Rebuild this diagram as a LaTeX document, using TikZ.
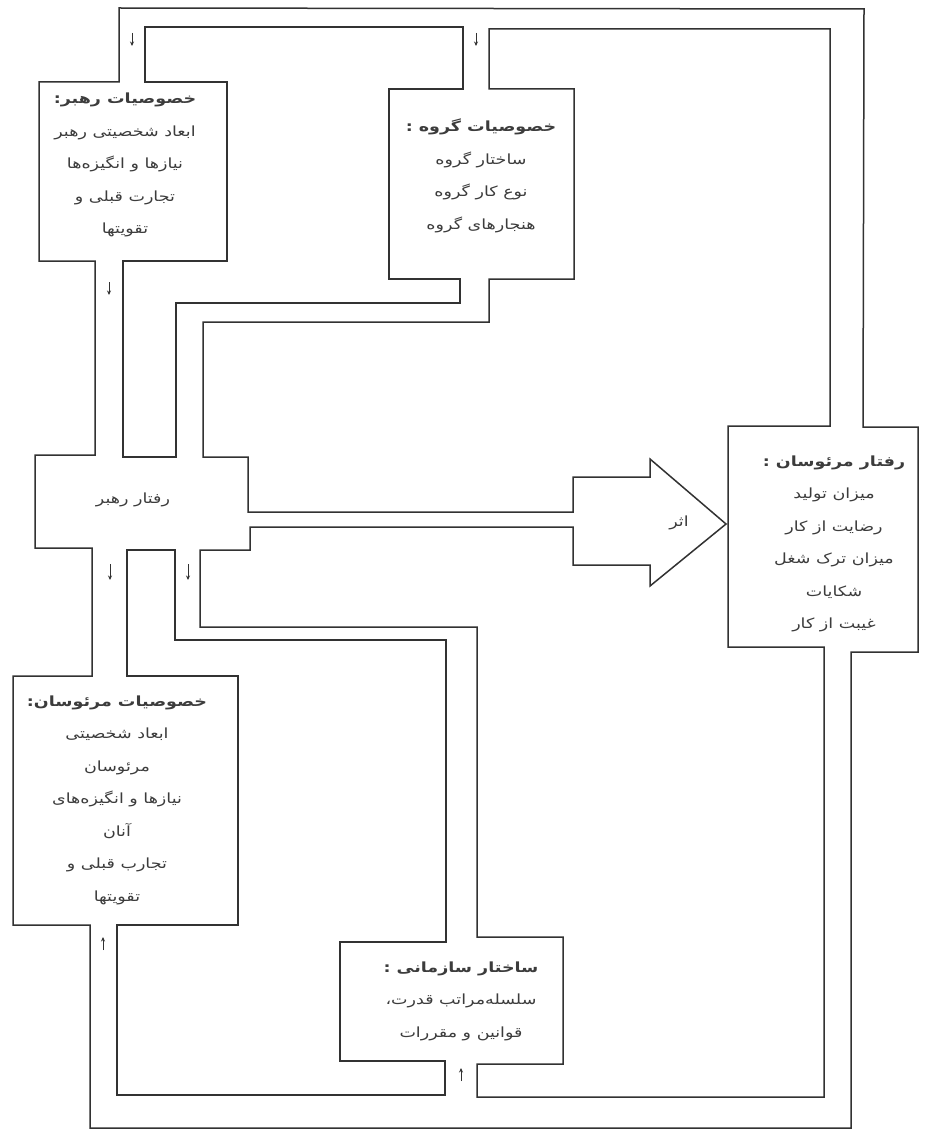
\documentclass[tikz,border=0pt]{standalone}
\usepackage{fontspec}
\newfontfamily\arabicfont[Script=Arabic,FakeStretch=1.25]{DejaVu Sans}
\TeXXeTstate=1
\usetikzlibrary{arrows.meta}
\newcommand{\fa}[1]{\beginR #1\endR}
\definecolor{ink}{RGB}{50,50,50}
\definecolor{textink}{RGB}{60,60,60}
\tikzset{
  outline/.style={draw=ink, line width=1.5pt, line join=miter},
  flowarrow/.style={draw=ink, line width=0.8pt, -{Stealth[length=4.5pt,width=4pt]}},
  label/.style={text=textink, align=center, inner sep=0pt, font=\arabicfont\fontsize{14}{32.5}\selectfont},
}
\begin{document}
\begin{tikzpicture}[x=1pt,y=-1pt]
\fill[white] (0,0) rectangle (929,1134);
\useasboundingbox (0,0) rectangle (929,1134);

% outer line
\draw[outline] (39,82) -- (119,82) -- (119,8) -- (864,9) -- (863,427) -- (918,427) -- (918,652) -- (851,652) -- (851,1128) -- (90,1128) -- (90,925) -- (13,925) -- (13,676) -- (92,676) -- (92,548) -- (35,548) -- (35,455) -- (95,455) -- (95,261) -- (39,261) -- cycle;
% leader / group loop
\draw[outline] (145,82) -- (145,27) -- (463,27) -- (463,89) -- (389,89) -- (389,279) -- (460,279) -- (460,303) -- (176,303) -- (176,457) -- (123,457) -- (123,261) -- (227,261) -- (227,82) -- cycle;
% group / arrow / behaviour / organisation loop
\draw[outline] (489,89) -- (489,29) -- (830,29) -- (830,426) -- (728,426) -- (728,647) -- (824,647) -- (824,1097) -- (477,1097) -- (477,1064) -- (563,1064) -- (563,937) -- (477,937) -- (477,627) -- (200,627) -- (200,550) -- (250,550) -- (250,527) -- (573,527) -- (573,565) -- (650,565) -- (650,586) -- (726,524) -- (650,459) -- (650,477) -- (573,477) -- (573,512) -- (248,512) -- (248,457) -- (203,457) -- (203,322) -- (489,322) -- (489,279) -- (574,279) -- (574,89) -- cycle;
% followers / organisation inner loop
\draw[outline] (117,925) -- (238,925) -- (238,676) -- (127,676) -- (127,550) -- (175,550) -- (175,640) -- (446,640) -- (446,942) -- (340,942) -- (340,1061) -- (445,1061) -- (445,1095) -- (117,1095) -- cycle;

% small flow arrows
\coordinate (a1s) at (132,33); \coordinate (a1e) at (132,46);
\coordinate (a2s) at (476,33); \coordinate (a2e) at (476,46);
\coordinate (a3s) at (109,282); \coordinate (a3e) at (109,295);
\coordinate (a4s) at (110,564); \coordinate (a4e) at (110,580);
\coordinate (a5s) at (188,564); \coordinate (a5e) at (188,580);
\coordinate (a6s) at (103,950); \coordinate (a6e) at (103,937);
\coordinate (a7s) at (461,1081); \coordinate (a7e) at (461,1068);
\foreach \i in {1,...,7} {\draw[flowarrow] (a\i s) -- (a\i e);}

% texts
\node[label] (leader) at (125,165) {{\bfseries\fa{خصوصیات رهبر:}}\\ \fa{ابعاد شخصیتی رهبر}\\ \fa{نیازها و انگیزه‌ها}\\ \fa{تجارت قبلی و}\\ \fa{تقویتها}};
\node[label] (group) at (481,176) {{\bfseries\fa{خصوصیات گروه :}}\\ \fa{ساختار گروه}\\ \fa{نوع کار گروه}\\ \fa{هنجارهای گروه}};
\node[label] (behav) at (133,500) {\fa{رفتار رهبر}};
\node[label] (effect) at (679,523) {\fa{اثر}};
\node[label] (outcome) at (834,544) {{\bfseries\fa{رفتار مرئوسان :}}\\ \fa{میزان تولید}\\ \fa{رضایت از کار}\\ \fa{میزان ترک شغل}\\ \fa{شکایات}\\ \fa{غیبت از کار}};
\node[label] (follow) at (117,800) {{\bfseries\fa{خصوصیات مرئوسان:}}\\ \fa{ابعاد شخصیتی}\\ \fa{مرئوسان}\\ \fa{نیازها و انگیزه‌های}\\ \fa{آنان}\\ \fa{تجارب قبلی و}\\ \fa{تقویتها}};
\node[label] (org) at (461,1001) {{\bfseries\fa{ساختار سازمانی :}}\\ \fa{سلسله‌مراتب قدرت،}\\ \fa{قوانین و مقررات}};
\end{tikzpicture}
\end{document}
